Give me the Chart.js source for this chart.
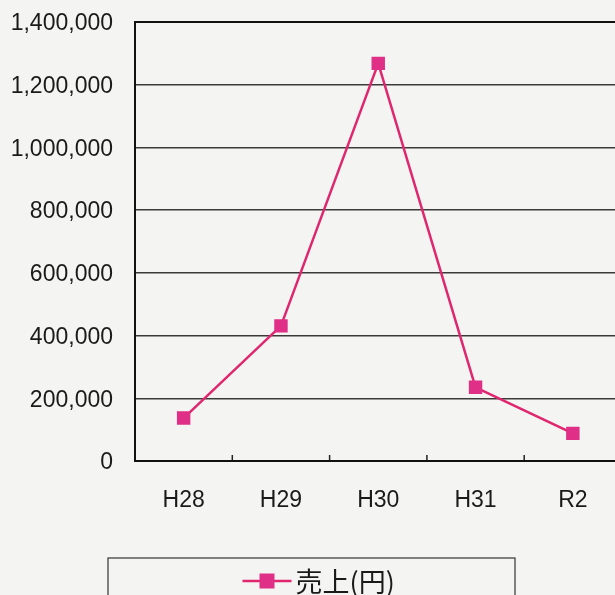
<!DOCTYPE html>
<html>
<head>
<meta charset="utf-8">
<script src="https://cdn.jsdelivr.net/npm/chart.js@4"></script>
<style>
  html, body { margin: 0; padding: 0; background: #f4f4f2; overflow: hidden; }
  #clip { width: 615px; height: 595px; overflow: hidden; position: relative; }
  #wrap { width: 631px; height: 595px; position: absolute; left: 0; top: 0; }
  canvas { display: block; }
</style>
</head>
<body>
<div id="clip"><div id="wrap"><canvas id="c" width="631" height="595"></canvas></div></div>
<script>
const categories = ["H28", "H29", "H30", "H31", "R2"];
const seriesLabel = "売上(円)";
const salesValues = [137000, 431000, 1268000, 235000, 88000];
const yTickMin = 0;
const yTickMax = 1400000;
const yTickStep = 200000;

const LINE_COLOR = '#e0266e';
const MARKER_COLOR = '#e02f86';
const TEXT_COLOR = '#1a1a1a';

const innerTicks = {
  id: 'innerTicks',
  afterDatasetsDraw(chart) {
    const x = chart.scales.x, ctx = chart.ctx, a = chart.chartArea;
    ctx.save();
    ctx.strokeStyle = '#222';
    ctx.lineWidth = 1.5;
    for (let i = 0; i < categories.length - 1; i++) {
      const bx = (x.getPixelForValue(i) + x.getPixelForValue(i + 1)) / 2;
      ctx.beginPath();
      ctx.moveTo(bx, a.bottom);
      ctx.lineTo(bx, a.bottom - 6);
      ctx.stroke();
    }
    ctx.restore();
  }
};

const frame = {
  id: 'frame',
  afterDraw(chart) {
    const ctx = chart.ctx, a = chart.chartArea;
    ctx.save();
    ctx.strokeStyle = '#111';
    ctx.lineWidth = 2;
    ctx.beginPath();
    ctx.moveTo(a.right + 2, a.top);
    ctx.lineTo(a.left, a.top);
    ctx.lineTo(a.left, a.bottom);
    ctx.lineTo(a.right + 2, a.bottom);
    ctx.stroke();
    ctx.restore();
  }
};

const boxLegend = {
  id: 'boxLegend',
  afterDraw(chart) {
    const ctx = chart.ctx, a = chart.chartArea;
    const ds = chart.data.datasets[0];
    const cx = a.left + 176.5;
    const top = a.bottom + 97;
    const halfW = 203.5;
    ctx.save();
    ctx.strokeStyle = '#333';
    ctx.lineWidth = 1.2;
    ctx.strokeRect(cx - halfW, top, halfW * 2, chart.height - top + 10);
    const midY = top + 23;
    const lx0 = cx - 69, lx1 = cx - 20;
    ctx.strokeStyle = ds.borderColor;
    ctx.lineWidth = 2.5;
    ctx.beginPath();
    ctx.moveTo(lx0, midY);
    ctx.lineTo(lx1, midY);
    ctx.stroke();
    ctx.fillStyle = ds.pointBackgroundColor;
    const m = (lx0 + lx1) / 2;
    ctx.fillRect(m - 7.5, midY - 7.5, 15, 15);
    ctx.fillStyle = TEXT_COLOR;
    ctx.font = '27px "Noto Sans CJK JP"';
    ctx.textAlign = 'left';
    ctx.textBaseline = 'middle';
    ctx.fillText(ds.label, lx1 + 4, midY + 1);
    ctx.restore();
  }
};

new Chart(document.getElementById('c'), {
  type: 'line',
  data: {
    labels: categories,
    datasets: [{
      label: seriesLabel,
      data: salesValues,
      borderColor: LINE_COLOR,
      borderWidth: 2.5,
      pointStyle: 'rect',
      pointRadius: 9.5,
      pointBorderWidth: 0,
      pointBackgroundColor: MARKER_COLOR,
      pointBorderColor: MARKER_COLOR,
      tension: 0
    }]
  },
  options: {
    responsive: false,
    maintainAspectRatio: false,
    animation: false,
    devicePixelRatio: 1,
    layout: { padding: { top: 22, left: 8, right: 1, bottom: 58 } },
    plugins: { legend: { display: false }, tooltip: { enabled: false } },
    scales: {
      x: {
        offset: true,
        grid: { display: false, drawTicks: false },
        border: { display: false },
        afterFit(scale) { scale.height = 76; scale.paddingLeft = 0; scale.paddingRight = 0; },
        ticks: { color: TEXT_COLOR, padding: 26, font: { family: '"Liberation Sans", Arial, sans-serif', size: 23 } }
      },
      y: {
        min: yTickMin,
        max: yTickMax,
        grid: { color: '#3a3a3a', lineWidth: 1.5, drawTicks: false },
        border: { display: false },
        afterFit(scale) { scale.width = 127; scale.paddingTop = 0; scale.paddingBottom = 0; },
        ticks: {
          stepSize: yTickStep,
          color: TEXT_COLOR,
          padding: 22,
          labelOffset: 2,
          font: { family: '"Liberation Sans", Arial, sans-serif', size: 23 },
          callback: v => v.toLocaleString('en-US')
        }
      }
    }
  },
  plugins: [innerTicks, frame, boxLegend]
});
</script>
</body>
</html>
